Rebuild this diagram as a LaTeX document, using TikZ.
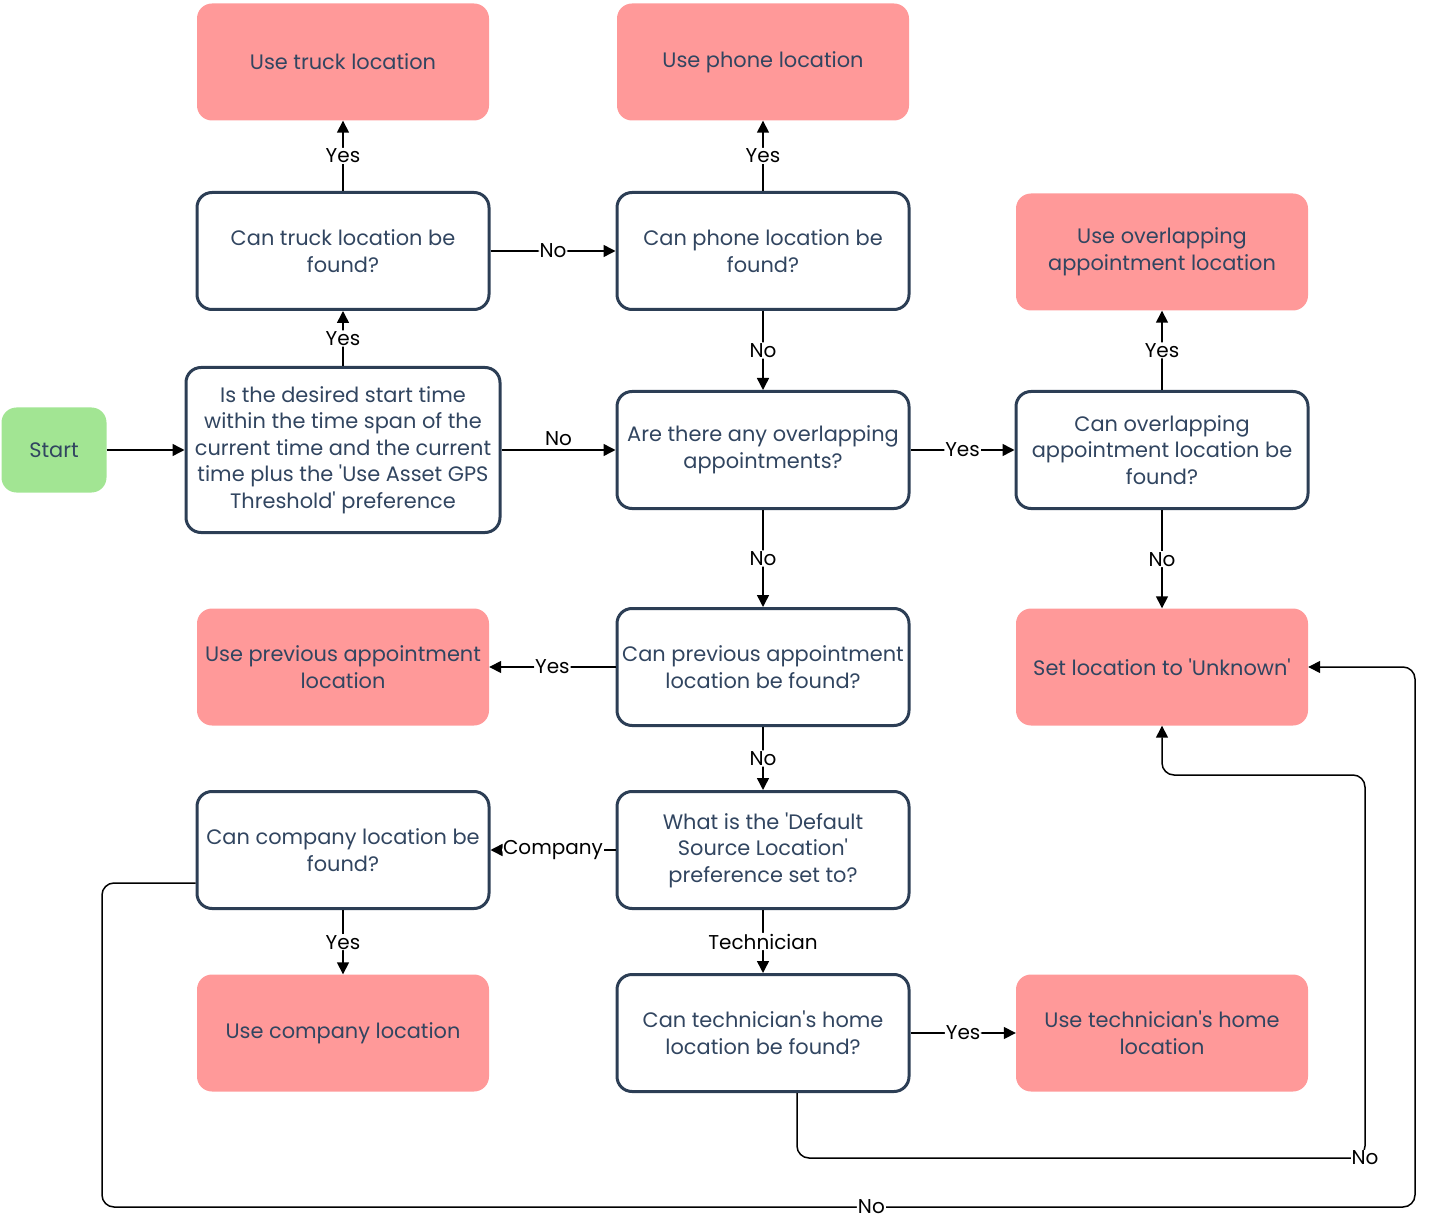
\documentclass[tikz,border=0pt]{standalone}
\usepackage{fontspec}
\setmainfont{Poppins}
\usetikzlibrary{arrows.meta}
\definecolor{nodered}{HTML}{FF9999}
\definecolor{nodegreen}{HTML}{A2E593}
\definecolor{navy}{HTML}{2C3E55}
\definecolor{txt}{HTML}{314560}
\newcommand{\sq}{\textquotesingle}
\begin{document}
\begin{tikzpicture}[x=1pt,y=-1pt,
 base/.style={rounded corners=15pt, minimum width=292pt, minimum height=117pt, align=center, text=txt, font=\fontsize{20.9}{26.5}\selectfont, inner sep=2pt},
 act/.style={base, fill=nodered},
 dec/.style={base, draw=navy, line width=3pt, fill=white},
 conn/.style={draw=black, line width=1.5pt, -{Triangle[length=12pt,width=12pt]}, rounded corners=12pt},
 lab/.style={fill=white, font=\fontsize{20}{24}\selectfont, text=black, inner sep=1pt}
]
\useasboundingbox (0,0) rectangle (1430,1222);
\node[act] (usetruck) at (343,62) {Use truck location};
\node[act] (usephone) at (763,62) {Use phone location};
\node[dec] (cantruck) at (343,251) {Can truck location be\\found?};
\node[dec] (canphone) at (763,251) {Can phone location be\\found?};
\node[act] (useover) at (1162,252) {Use overlapping\\appointment location};
\node[base, fill=nodegreen, minimum width=105pt, minimum height=85pt] (start) at (54,450) {Start};
\node[dec, minimum width=314pt, minimum height=165pt] (desired) at (343,450) {Is the desired start time\\within the time span of the\\current time and the current\\time plus the \sq Use Asset GPS\\Threshold\sq{} preference};
\node[dec] (anyover) at (763,450) {Are there any overlapping\\appointments?};
\node[dec] (canover) at (1162,450) {Can overlapping\\appointment location be\\found?};
\node[act] (useprev) at (343,667) {Use previous appointment\\location};
\node[dec] (canprev) at (763,667) {Can previous appointment\\location be found?};
\node[act] (unknown) at (1162,667) {Set location to \sq Unknown\sq};
\node[dec] (cancomp) at (343,850) {Can company location be\\found?};
\node[dec] (default) at (763,850) {What is the \sq Default\\Source Location\sq\\preference set to?};
\node[act] (usecomp) at (343,1033) {Use company location};
\node[dec] (cantech) at (763,1033) {Can technician\sq s home\\location be found?};
\node[act] (usetech) at (1162,1033) {Use technician\sq s home\\location};

\draw[conn] (start) -- (desired);
\draw[conn] (desired) -- node[lab]{Yes} (cantruck);
\draw[conn] (desired) -- node[lab, above=3pt]{No} (anyover);
\draw[conn] (cantruck) -- node[lab]{Yes} (usetruck);
\draw[conn] (cantruck) -- node[lab]{No} (canphone);
\draw[conn] (canphone) -- node[lab]{Yes} (usephone);
\draw[conn] (canphone) -- node[lab]{No} (anyover);
\draw[conn] (anyover) -- node[lab]{Yes} (canover);
\draw[conn] (canover) -- node[lab]{Yes} (useover);
\draw[conn] (canover) -- node[lab]{No} (unknown);
\draw[conn] (anyover) -- node[lab]{No} (canprev);
\draw[conn] (canprev) -- node[lab]{Yes} (useprev);
\draw[conn] (canprev) -- node[lab]{No} (default);
\draw[conn] (default) -- node[lab]{Company} (cancomp);
\draw[conn] (default) -- node[lab]{Technician} (cantech);
\draw[conn] (cancomp) -- node[lab]{Yes} (usecomp);
\draw[conn] (cantech) -- node[lab]{Yes} (usetech);

\coordinate (c1) at (1365,1158);
\coordinate (c2) at (102,1207);
\coordinate (c3) at (1415,1207);
\draw[conn] ([xshift=34pt]cantech.south) |- (c1) -- (1365,775) -| (unknown.south);
\node[lab] at (c1) {No};
\draw[conn] ([yshift=-33pt]cancomp.west) -| (c2) -- node[lab, pos=0.586]{No} (c3) |- (unknown.east);
\end{tikzpicture}
\end{document}
